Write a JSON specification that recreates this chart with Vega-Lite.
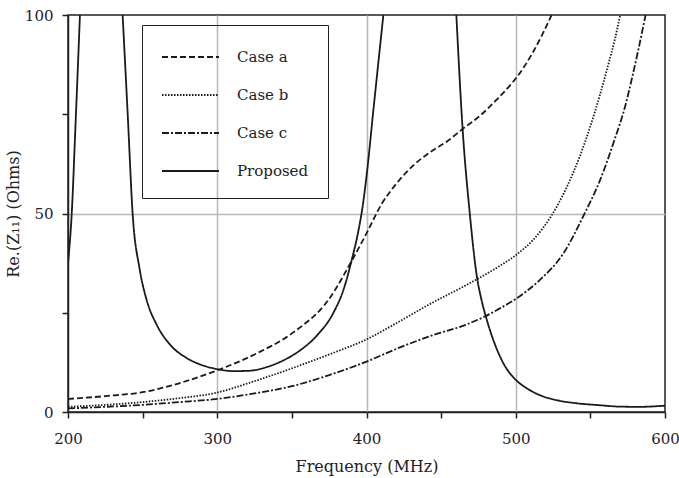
{
  "$schema": "https://vega.github.io/schema/vega-lite/v6.json",
  "width": 597,
  "height": 397,
  "autosize": {"type": "none"},
  "padding": {"left": 68, "top": 15, "right": 14, "bottom": 66},
  "background": "white",
  "config": {
    "view": {"stroke": "#222", "strokeWidth": 1.5},
    "font": "DejaVu Serif",
    "axis": {
      "labelFont": "DejaVu Serif",
      "titleFont": "DejaVu Serif",
      "labelFontSize": 15,
      "titleFontSize": 16,
      "labelColor": "#222",
      "titleColor": "#222",
      "titleFontWeight": "normal",
      "domainColor": "#222",
      "domainWidth": 1.5,
      "tickColor": "#222",
      "tickWidth": 1.5,
      "tickSize": 6,
      "labelFlush": false,
      "labelOverlap": false,
      "gridColor": "#b8b8b8",
      "gridWidth": 1.5
    },
    "legend": {
      "labelFont": "DejaVu Serif",
      "labelFontSize": 15,
      "labelColor": "#222"
    }
  },
  "data": {
    "values": [
      {"series": "Case a", "seg": 1, "f": 200, "v": 3.3},
      {"series": "Case a", "seg": 1, "f": 225, "v": 4.0},
      {"series": "Case a", "seg": 1, "f": 250, "v": 5.0},
      {"series": "Case a", "seg": 1, "f": 275, "v": 7.3},
      {"series": "Case a", "seg": 1, "f": 300, "v": 10.5},
      {"series": "Case a", "seg": 1, "f": 325, "v": 14.5},
      {"series": "Case a", "seg": 1, "f": 350, "v": 19.8},
      {"series": "Case a", "seg": 1, "f": 375, "v": 28.5},
      {"series": "Case a", "seg": 1, "f": 390, "v": 38.0},
      {"series": "Case a", "seg": 1, "f": 400, "v": 45},
      {"series": "Case a", "seg": 1, "f": 410, "v": 52.3},
      {"series": "Case a", "seg": 1, "f": 420, "v": 57.5},
      {"series": "Case a", "seg": 1, "f": 431, "v": 62},
      {"series": "Case a", "seg": 1, "f": 442.5, "v": 65.4},
      {"series": "Case a", "seg": 1, "f": 453.7, "v": 68.1},
      {"series": "Case a", "seg": 1, "f": 464.4, "v": 71.3},
      {"series": "Case a", "seg": 1, "f": 476, "v": 74.6},
      {"series": "Case a", "seg": 1, "f": 487, "v": 78.6},
      {"series": "Case a", "seg": 1, "f": 496, "v": 82.2},
      {"series": "Case a", "seg": 1, "f": 500, "v": 84},
      {"series": "Case a", "seg": 1, "f": 511.8, "v": 90.8},
      {"series": "Case a", "seg": 1, "f": 518.5, "v": 95.6},
      {"series": "Case a", "seg": 1, "f": 524, "v": 100},

      {"series": "Case b", "seg": 1, "f": 200, "v": 1.3},
      {"series": "Case b", "seg": 1, "f": 225, "v": 1.8},
      {"series": "Case b", "seg": 1, "f": 250, "v": 2.5},
      {"series": "Case b", "seg": 1, "f": 275, "v": 3.5},
      {"series": "Case b", "seg": 1, "f": 300, "v": 4.9},
      {"series": "Case b", "seg": 1, "f": 322, "v": 7.4},
      {"series": "Case b", "seg": 1, "f": 350, "v": 11.0},
      {"series": "Case b", "seg": 1, "f": 375, "v": 14.5},
      {"series": "Case b", "seg": 1, "f": 400, "v": 18.3},
      {"series": "Case b", "seg": 1, "f": 422, "v": 22.8},
      {"series": "Case b", "seg": 1, "f": 444, "v": 27.5},
      {"series": "Case b", "seg": 1, "f": 466, "v": 31.8},
      {"series": "Case b", "seg": 1, "f": 488, "v": 36.5},
      {"series": "Case b", "seg": 1, "f": 500, "v": 39.5},
      {"series": "Case b", "seg": 1, "f": 512, "v": 43.5},
      {"series": "Case b", "seg": 1, "f": 524, "v": 49.5},
      {"series": "Case b", "seg": 1, "f": 534, "v": 56.5},
      {"series": "Case b", "seg": 1, "f": 543, "v": 64.5},
      {"series": "Case b", "seg": 1, "f": 550, "v": 72},
      {"series": "Case b", "seg": 1, "f": 556.5, "v": 80},
      {"series": "Case b", "seg": 1, "f": 562, "v": 87.5},
      {"series": "Case b", "seg": 1, "f": 566.5, "v": 94},
      {"series": "Case b", "seg": 1, "f": 570, "v": 100},

      {"series": "Case c", "seg": 1, "f": 200, "v": 0.9},
      {"series": "Case c", "seg": 1, "f": 225, "v": 1.3},
      {"series": "Case c", "seg": 1, "f": 250, "v": 1.8},
      {"series": "Case c", "seg": 1, "f": 275, "v": 2.5},
      {"series": "Case c", "seg": 1, "f": 300, "v": 3.3},
      {"series": "Case c", "seg": 1, "f": 322, "v": 4.5},
      {"series": "Case c", "seg": 1, "f": 350, "v": 6.5},
      {"series": "Case c", "seg": 1, "f": 375, "v": 9.3},
      {"series": "Case c", "seg": 1, "f": 400, "v": 12.7},
      {"series": "Case c", "seg": 1, "f": 422, "v": 16.2},
      {"series": "Case c", "seg": 1, "f": 444, "v": 19.3},
      {"series": "Case c", "seg": 1, "f": 466, "v": 21.9},
      {"series": "Case c", "seg": 1, "f": 479, "v": 24.0},
      {"series": "Case c", "seg": 1, "f": 488, "v": 25.8},
      {"series": "Case c", "seg": 1, "f": 500, "v": 28.5},
      {"series": "Case c", "seg": 1, "f": 516, "v": 33.2},
      {"series": "Case c", "seg": 1, "f": 532, "v": 40},
      {"series": "Case c", "seg": 1, "f": 546, "v": 49.9},
      {"series": "Case c", "seg": 1, "f": 556.5, "v": 58.4},
      {"series": "Case c", "seg": 1, "f": 565.4, "v": 67.7},
      {"series": "Case c", "seg": 1, "f": 574, "v": 78},
      {"series": "Case c", "seg": 1, "f": 578, "v": 84.3},
      {"series": "Case c", "seg": 1, "f": 582, "v": 91},
      {"series": "Case c", "seg": 1, "f": 587, "v": 100},

      {"series": "Proposed", "seg": 1, "f": 200, "v": 37.5},
      {"series": "Proposed", "seg": 1, "f": 202.5, "v": 50},
      {"series": "Proposed", "seg": 1, "f": 205, "v": 72},
      {"series": "Proposed", "seg": 1, "f": 208, "v": 100},

      {"series": "Proposed", "seg": 2, "f": 236.6, "v": 100},
      {"series": "Proposed", "seg": 2, "f": 240, "v": 75},
      {"series": "Proposed", "seg": 2, "f": 243.3, "v": 50},
      {"series": "Proposed", "seg": 2, "f": 248, "v": 36},
      {"series": "Proposed", "seg": 2, "f": 252.7, "v": 28.2},
      {"series": "Proposed", "seg": 2, "f": 259.4, "v": 22},
      {"series": "Proposed", "seg": 2, "f": 268.3, "v": 17},
      {"series": "Proposed", "seg": 2, "f": 279.5, "v": 13.6},
      {"series": "Proposed", "seg": 2, "f": 288.4, "v": 12.0},
      {"series": "Proposed", "seg": 2, "f": 300, "v": 10.8},
      {"series": "Proposed", "seg": 2, "f": 311, "v": 10.3},
      {"series": "Proposed", "seg": 2, "f": 322, "v": 10.4},
      {"series": "Proposed", "seg": 2, "f": 333, "v": 11.3},
      {"series": "Proposed", "seg": 2, "f": 344.3, "v": 13.0},
      {"series": "Proposed", "seg": 2, "f": 355.4, "v": 15.5},
      {"series": "Proposed", "seg": 2, "f": 366.6, "v": 19.2},
      {"series": "Proposed", "seg": 2, "f": 377.7, "v": 24.9},
      {"series": "Proposed", "seg": 2, "f": 384.5, "v": 30.7},
      {"series": "Proposed", "seg": 2, "f": 390.1, "v": 38.3},
      {"series": "Proposed", "seg": 2, "f": 394.5, "v": 45.5},
      {"series": "Proposed", "seg": 2, "f": 397.5, "v": 52},
      {"series": "Proposed", "seg": 2, "f": 400.5, "v": 61},
      {"series": "Proposed", "seg": 2, "f": 404.6, "v": 76},
      {"series": "Proposed", "seg": 2, "f": 411.3, "v": 100},

      {"series": "Proposed", "seg": 3, "f": 460.2, "v": 100},
      {"series": "Proposed", "seg": 3, "f": 464.4, "v": 71.3},
      {"series": "Proposed", "seg": 3, "f": 469.2, "v": 50},
      {"series": "Proposed", "seg": 3, "f": 473.8, "v": 34.5},
      {"series": "Proposed", "seg": 3, "f": 477.2, "v": 28.0},
      {"series": "Proposed", "seg": 3, "f": 480, "v": 24.0},
      {"series": "Proposed", "seg": 3, "f": 485, "v": 18.1},
      {"series": "Proposed", "seg": 3, "f": 491.7, "v": 12.3},
      {"series": "Proposed", "seg": 3, "f": 500, "v": 8.1},
      {"series": "Proposed", "seg": 3, "f": 507.3, "v": 6.0},
      {"series": "Proposed", "seg": 3, "f": 518.5, "v": 3.9},
      {"series": "Proposed", "seg": 3, "f": 529.7, "v": 2.8},
      {"series": "Proposed", "seg": 3, "f": 540.8, "v": 2.2},
      {"series": "Proposed", "seg": 3, "f": 556.5, "v": 1.7},
      {"series": "Proposed", "seg": 3, "f": 570, "v": 1.35},
      {"series": "Proposed", "seg": 3, "f": 583, "v": 1.3},
      {"series": "Proposed", "seg": 3, "f": 600, "v": 1.6}
    ]
  },
  "mark": {"type": "line", "color": "#1a1a1a", "strokeWidth": 1.8, "clip": true, "interpolate": "monotone"},
  "encoding": {
    "x": {
      "field": "f",
      "type": "quantitative",
      "scale": {"domain": [200, 600], "nice": false, "zero": false},
      "axis": {
        "title": "Frequency (MHz)",
        "values": [200, 250, 300, 350, 400, 450, 500, 550, 600],
        "labelExpr": "datum.value % 100 === 0 ? datum.label : ''",
        "labelPadding": 13,
        "titlePadding": 12,
        "gridOpacity": {"condition": {"test": "datum.value === 300 || datum.value === 400 || datum.value === 500", "value": 1}, "value": 0}
      }
    },
    "y": {
      "field": "v",
      "type": "quantitative",
      "scale": {"domain": [0, 100], "nice": false},
      "axis": {
        "title": "Re.(Z₁₁) (Ohms)",
        "values": [0, 25, 50, 75, 100],
        "labelExpr": "datum.value % 50 === 0 ? datum.label : ''",
        "labelPadding": 9,
        "titlePadding": 3,
        "gridOpacity": {"condition": {"test": "datum.value === 50", "value": 1}, "value": 0}
      }
    },
    "strokeDash": {
      "field": "series",
      "type": "nominal",
      "scale": {
        "domain": ["Case a", "Case b", "Case c", "Proposed"],
        "range": [[6, 3], [1.5, 1.5], [7, 2, 2, 2], [1, 0]]
      },
      "legend": {
        "title": null,
        "orient": "none",
        "legendX": 74,
        "legendY": 10,
        "strokeColor": "#222",
        "padding": 19,
        "symbolType": "M-1,0H3.75",
        "symbolSize": 576,
        "symbolStrokeWidth": 1.8,
        "symbolStrokeColor": "#1a1a1a",
        "symbolFillColor": "transparent",
        "labelOffset": 50,
        "rowPadding": 17
      }
    },
    "detail": {"field": "seg", "type": "nominal"}
  }
}
